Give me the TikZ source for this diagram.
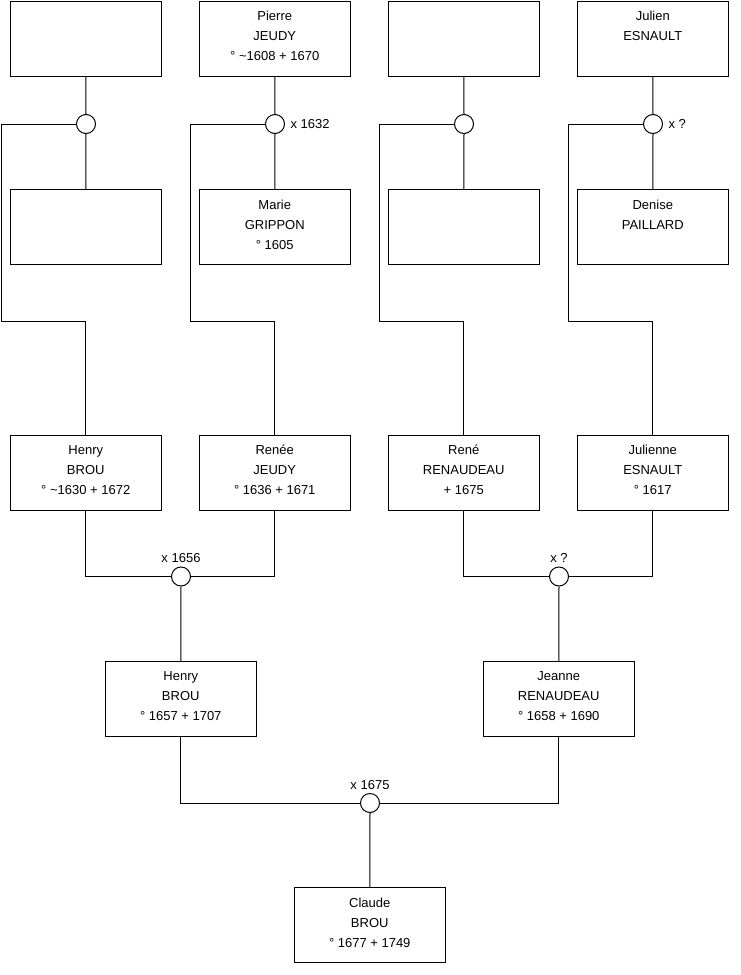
\documentclass[tikz,border=0pt]{standalone}
\usepackage{fontspec}
\setmainfont{Liberation Sans}
\begin{document}
\begin{tikzpicture}[x=0.75pt,y=-0.75pt,
  pbox/.style={draw, line width=0.75pt, minimum width=113.6pt, minimum height=56.6pt, inner sep=0pt},
  ptext/.style={anchor=north, align=center, inner sep=0pt, font=\fontsize{9.75pt}{15pt}\selectfont},
  joint/.style={draw, circle, line width=0.75pt, minimum size=14.25pt, inner sep=0pt, fill=white},
  lbl/.style={inner sep=0pt, font=\fontsize{9.75pt}{15pt}\selectfont},
  conn/.style={line width=0.75pt}]
\useasboundingbox (0,0) rectangle (740,975);
% row 1
\node[pbox] (b1) at (85.75,38.75) {};
\node[pbox] (b2) at (274.75,38.75) {};
\node[pbox] (b3) at (463.75,38.75) {};
\node[pbox] (b4) at (652.75,38.75) {};
% row 2
\node[pbox] (b5) at (85.75,227.25) {};
\node[pbox] (b6) at (274.75,227.25) {};
\node[pbox] (b7) at (463.75,227.25) {};
\node[pbox] (b8) at (652.75,227.25) {};
% row 3
\node[pbox] (r1) at (85.75,472.75) {};
\node[pbox] (r2) at (274.75,472.75) {};
\node[pbox] (r3) at (463.75,472.75) {};
\node[pbox] (r4) at (652.75,472.75) {};
% row 4
\node[pbox] (s1) at (180.75,699.25) {};
\node[pbox] (s2) at (558.75,699.25) {};
% row 5
\node[pbox] (cl) at (369.75,925.25) {};
% texts
\node[ptext] (t2) at ([yshift=-7.75pt]b2.north) {Pierre\\JEUDY\\° \textasciitilde1608 + 1670};
\node[ptext] (t4) at ([yshift=-7.75pt]b4.north) {Julien\\ESNAULT};
\node[ptext] (t6) at ([yshift=-7.75pt]b6.north) {Marie\\GRIPPON\\° 1605};
\node[ptext] (t8) at ([yshift=-7.75pt]b8.north) {Denise\\PAILLARD};
\node[ptext] (tr1) at ([yshift=-7.75pt]r1.north) {Henry\\BROU\\° \textasciitilde1630 + 1672};
\node[ptext] (tr2) at ([yshift=-7.75pt]r2.north) {Renée\\JEUDY\\° 1636 + 1671};
\node[ptext] (tr3) at ([yshift=-7.75pt]r3.north) {René\\RENAUDEAU\\+ 1675};
\node[ptext] (tr4) at ([yshift=-7.75pt]r4.north) {Julienne\\ESNAULT\\° 1617};
\node[ptext] (ts1) at ([yshift=-7.75pt]s1.north) {Henry\\BROU\\° 1657 + 1707};
\node[ptext] (ts2) at ([yshift=-7.75pt]s2.north) {Jeanne\\RENAUDEAU\\° 1658 + 1690};
\node[ptext] (tcl) at ([yshift=-7.75pt]cl.north) {Claude\\BROU\\° 1677 + 1749};
% joints
\node[joint] (c1) at (86,124) {};
\node[joint] (c2) at (275,124) {};
\node[joint] (c3) at (464,124) {};
\node[joint] (c4) at (653,124) {};
\node[joint] (m1) at (181,576.5) {};
\node[joint] (m2) at (559,576.5) {};
\node[joint] (m3) at (370,803) {};
% joint labels
\node[lbl, anchor=west] (l2) at ([xshift=4pt]c2.east) {x 1632};
\node[lbl, anchor=west] (l4) at ([xshift=4pt]c4.east) {x ?};
\node[lbl, anchor=south] (lm1) at ([yshift=2.5pt]m1.north) {x 1656};
\node[lbl, anchor=south] (lm2) at ([yshift=2.5pt]m2.north) {x ?};
\node[lbl, anchor=south] (lm3) at ([yshift=2.5pt]m3.north) {x 1675};
% connectors top
\draw[conn] (b1.south) -- (c1.north);
\draw[conn] (c1.south) -- (b5.north);
\draw[conn] (c1.west) -| (1,321.5) -| (r1.north);
\draw[conn] (b2.south) -- (c2.north);
\draw[conn] (c2.south) -- (b6.north);
\draw[conn] (c2.west) -| (190.5,321.5) -| (r2.north);
\draw[conn] (b3.south) -- (c3.north);
\draw[conn] (c3.south) -- (b7.north);
\draw[conn] (c3.west) -| (379.5,321.5) -| (r3.north);
\draw[conn] (b4.south) -- (c4.north);
\draw[conn] (c4.south) -- (b8.north);
\draw[conn] (c4.west) -| (568.5,321.5) -| (r4.north);
% row 3 joints
\draw[conn] (r1.south) |- (m1.west);
\draw[conn] (r2.south) |- (m1.east);
\draw[conn] (m1.south) -- (s1.north);
\draw[conn] (r3.south) |- (m2.west);
\draw[conn] (r4.south) |- (m2.east);
\draw[conn] (m2.south) -- (s2.north);
% row 4 joint
\draw[conn] (s1.south) |- (m3.west);
\draw[conn] (s2.south) |- (m3.east);
\draw[conn] (m3.south) -- (cl.north);
\end{tikzpicture}
\end{document}
